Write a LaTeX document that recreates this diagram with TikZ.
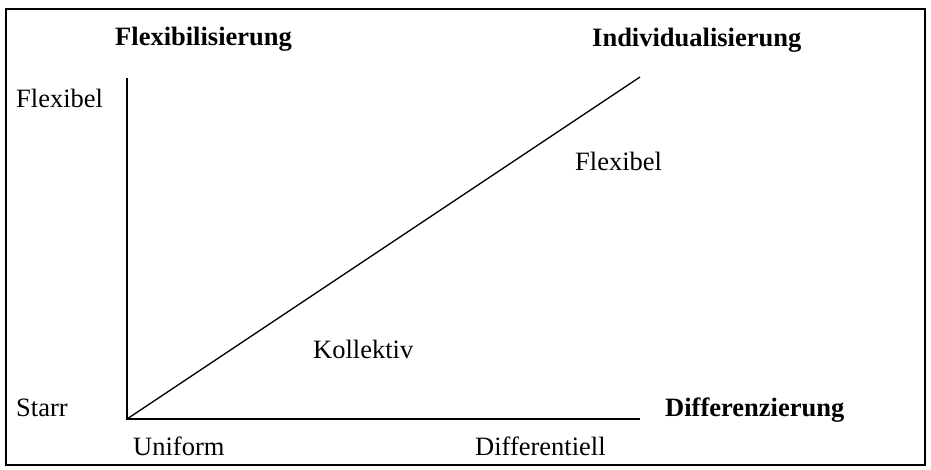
\documentclass[tikz,border=0pt]{standalone}
\usepackage{fontspec}
\setmainfont{Liberation Serif}
\begin{document}
\begin{tikzpicture}[x=1pt,y=-1pt,
  lbl/.style={inner sep=0pt,anchor=base west,font=\fontsize{26.5}{30}\selectfont},
  blbl/.style={lbl,font=\fontsize{26.5}{30}\selectfont\bfseries},
  axis/.style={line width=1.3pt}]
\useasboundingbox (0,0) rectangle (931,469);
\draw[line width=1.3pt] (6,9) rectangle (925,465);
\coordinate (top) at (127,78);
\coordinate (o) at (127,419);
\coordinate (xend) at (640,419);
\coordinate (dend) at (640,77);
\draw[axis] (top) -- (o) -- (xend);
\draw[axis] (o) -- (dend);
\node[blbl] (flexi) at (115,45) {Flexibilisierung};
\node[blbl] (indiv) at (592,46) {Individualisierung};
\node[lbl] (flexl) at (16,107) {Flexibel};
\node[lbl] (flexr) at (575,170) {Flexibel};
\node[lbl] (koll) at (313,358) {Kollektiv};
\node[lbl] (starr) at (16,416) {Starr};
\node[blbl] (diff) at (665,416) {Differenzierung};
\node[lbl] (unif) at (133,455) {Uniform};
\node[lbl] (dtl) at (475,455) {Differentiell};
\end{tikzpicture}
\end{document}
